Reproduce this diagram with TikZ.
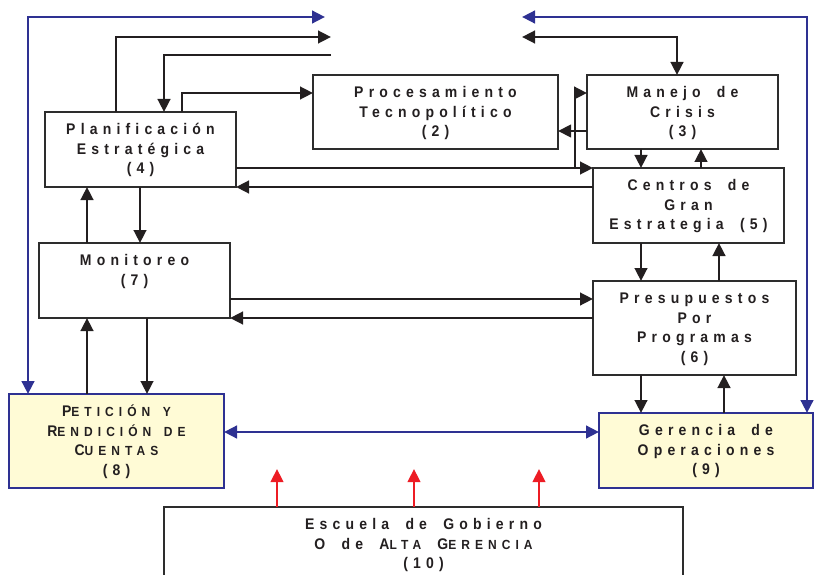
\documentclass[tikz,border=0pt]{standalone}
\usepackage{fontspec}
\newfontfamily\lbfont[LetterSpace=37,WordSpace=1.8]{Liberation Sans}
\newfontfamily\lbsc[LetterSpace=42,WordSpace=1.5]{Liberation Sans}
\usetikzlibrary{arrows.meta,calc}
\definecolor{ink}{RGB}{35,31,32}
\definecolor{frame}{RGB}{45,45,45}
\definecolor{navy}{RGB}{46,49,146}
\definecolor{cream}{RGB}{255,251,214}
\definecolor{redc}{RGB}{237,28,36}
\newcommand{\SmC}[1]{{\lbsc\bfseries\fontsize{12}{17.7}\selectfont #1}}
\newcommand{\TX}[1]{\scalebox{1}[1.1]{\begin{tabular}{@{}c@{}}#1\end{tabular}}}
\begin{document}
\begin{tikzpicture}[x=1pt,y=-1pt,
  boxnode/.style={draw=frame, line width=1.5pt, fill=white, anchor=north west, inner sep=0pt, outer sep=0pt},
  yellowbox/.style={boxnode, draw=navy, fill=cream},
  lbl/.style={anchor=north, inner sep=0pt, text=ink, font=\lbfont\bfseries\fontsize{14}{17.7}\selectfont},
  arr/.style={-{Triangle[length=13pt,width=12.5pt]}},
  arrtwo/.style={{Triangle[length=13pt,width=12.5pt]}-{Triangle[length=13pt,width=12.5pt]}},
  thickline/.style={line width=2.7pt, draw=ink},
  midline/.style={line width=2.2pt, draw=ink},
  thinline/.style={line width=1.4pt, draw=ink},
  blueline/.style={line width=2.8pt, draw=navy},
  redline/.style={line width=2.5pt, draw=redc}
]
\useasboundingbox (0,0) rectangle (814,575);
\clip (0,0) rectangle (814,575);

% boxes
\node[boxnode, minimum width=245pt, minimum height=74pt] (b2) at (313,75) {};
\node[boxnode, minimum width=191pt, minimum height=74pt] (b3) at (587,75) {};
\node[boxnode, minimum width=191pt, minimum height=75pt] (b4) at (45,112) {};
\node[boxnode, minimum width=191pt, minimum height=75pt] (b5) at (593,168) {};
\node[boxnode, minimum width=203pt, minimum height=94pt] (b6) at (593,281) {};
\node[boxnode, minimum width=191pt, minimum height=75pt] (b7) at (39,243) {};
\node[yellowbox, minimum width=215pt, minimum height=94pt] (b8) at (9,394) {};
\node[yellowbox, minimum width=214pt, minimum height=75pt] (b9) at (599,413) {};
\node[boxnode, minimum width=519pt, minimum height=100pt] (b10) at (164,507) {};

% texts
\node[lbl] (t2) at ($(b2.north)+(0,9)$) {\TX{Procesamiento\\Tecnopolítico\\(2)}};
\node[lbl] (t3) at ($(b3.north)+(0,9)$) {\TX{Manejo de\\Crisis\\(3)}};
\node[lbl] (t4) at ($(b4.north)+(0,9)$) {\TX{Planificación\\Estratégica\\(4)}};
\node[lbl] (t5) at ($(b5.north)+(0,9)$) {\TX{Centros de\\Gran\\Estrategia (5)}};
\node[lbl] (t6) at ($(b6.north)+(0,9)$) {\TX{Presupuestos\\Por\\Programas\\(6)}};
\node[lbl] (t7) at ($(b7.north)+(0,9)$) {\TX{Monitoreo\\(7)}};
\node[lbl] (t8) at ($(b8.north)+(0,9)$) {\TX{P\SmC{ETICIÓN Y}\\R\SmC{ENDICIÓN DE}\\C\SmC{UENTAS}\\(8)}};
\node[lbl] (t9) at ($(b9.north)+(0,9)$) {\TX{Gerencia de\\Operaciones\\(9)}};
\node[lbl] (t10) at ($(b10.north)+(0,9)$) {\TX{Escuela de Gobierno\\O de A\SmC{LTA} G\SmC{ERENCIA}\\(10)}};

% helper coordinates
\coordinate (k1) at (116,37);
\coordinate (k1e) at (331,37);
\coordinate (k2s) at (331,55);
\coordinate (k2) at (164,55);
\coordinate (k3) at (182,93);
\coordinate (k4s) at (522,37);
\coordinate (k4) at (677,37);
\coordinate (k5) at (0,131);
\coordinate (k6) at (0,168);
\coordinate (k7) at (575,93);
\coordinate (k8) at (0,187);
\coordinate (v1) at (641,0);
\coordinate (v2) at (701,0);
\coordinate (v3) at (140,0);
\coordinate (v4) at (87,0);
\coordinate (v5) at (719,0);
\coordinate (v6) at (147,0);
\coordinate (v7) at (724,0);
\coordinate (h1) at (0,299);
\coordinate (h2) at (0,318);
\coordinate (h3) at (0,432);
\coordinate (bl1) at (28,17);
\coordinate (bl2) at (325,17);
\coordinate (br1) at (807,17);
\coordinate (br2) at (522,17);
\coordinate (r1) at (277,469);
\coordinate (r2) at (414,469);
\coordinate (r3) at (539,469);

% black connectors at the top
\draw[thinline] (b4.north -| k1) -- ($(k1)+(0,-0.7)$);
\draw[thickline, arr] (k1) -- (k1e);
\draw[thinline] (k2s) -- (k2);
\draw[thickline, arr] ($(k2)+(0,-0.7)$) -- (b4.north -| k2);
\draw[thinline] (b4.north -| k3) -- ($(k3)+(0,-0.7)$);
\draw[thickline, arr] (k3) -- (k3 -| b2.west);
\draw[thickline, arrtwo] (k4s) -- (k4) -- (b3.north -| k4);
\draw[midline, arr] (b3.west |- k5) -- (b2.east |- k5);

% planificacion <-> centros
\draw[thickline, arr] (b4.east |- k6) -- (b5.west |- k6);
\draw[thinline] (k7 |- k6) -- (k7);
\draw[thickline, arr] (k7) -- (k7 -| b3.west);
\draw[thickline, arr] (b5.west |- k8) -- (b4.east |- k8);

% vertical pairs
\draw[thickline, arr] (b3.south -| v1) -- (b5.north -| v1);
\draw[thickline, arr] (b5.north -| v2) -- (b3.south -| v2);
\draw[thickline, arr] (b4.south -| v3) -- (b7.north -| v3);
\draw[thickline, arr] (b7.north -| v4) -- (b4.south -| v4);
\draw[thickline, arr] (b5.south -| v1) -- (b6.north -| v1);
\draw[thickline, arr] (b6.north -| v5) -- (b5.south -| v5);
\draw[thickline, arr] (b7.south -| v6) -- (b8.north -| v6);
\draw[thickline, arr] (b8.north -| v4) -- (b7.south -| v4);
\draw[thickline, arr] (b6.south -| v1) -- (b9.north -| v1);
\draw[thickline, arr] (b9.north -| v7) -- (b6.south -| v7);

% monitoreo <-> presupuestos
\draw[thickline, arr] (b7.east |- h1) -- (b6.west |- h1);
\draw[thickline, arr] (b6.west |- h2) -- (b7.east |- h2);

% blue connectors
\draw[blueline, arrtwo] (bl2) -- (bl1) -- (b8.north -| bl1);
\draw[blueline, arrtwo] (br2) -- (br1) -- (b9.north -| br1);
\draw[blueline, arrtwo] (b8.east |- h3) -- (b9.west |- h3);

% red arrows
\draw[redline, arr] (b10.north -| r1) -- (r1);
\draw[redline, arr] (b10.north -| r2) -- (r2);
\draw[redline, arr] (b10.north -| r3) -- (r3);
\end{tikzpicture}
\end{document}
